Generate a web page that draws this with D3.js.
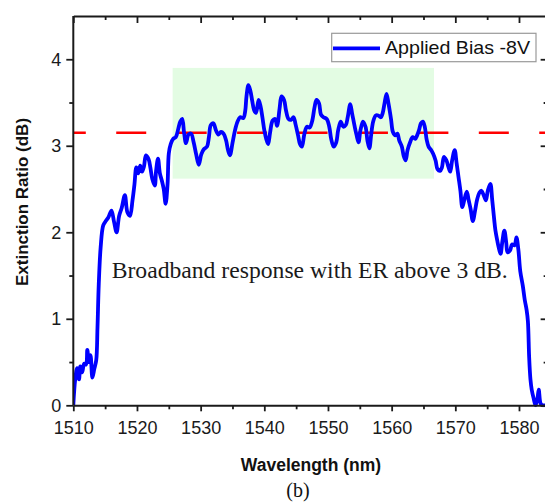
<!DOCTYPE html>
<html><head><meta charset="utf-8">
<script src="https://cdn.jsdelivr.net/npm/d3@7"></script>
<style>html,body{margin:0;padding:0;background:#fff;}svg{display:block;}</style>
</head><body>
<svg id="chart" width="545" height="502"></svg>
<script>
const wavelength = [1510.0,1510.3,1510.6,1510.9,1511.1,1511.4,1511.7,1512.0,1512.2,1512.45,1512.7,1513.0,1513.3,1513.6,1513.8,1514.0,1514.3,1514.7,1515.1,1515.5,1516.0,1516.4,1516.8,1517.2,1517.6,1518.1,1518.5,1518.9,1519.3,1519.6,1519.9,1520.2,1520.5,1520.8,1521.1,1521.4,1521.8,1522.1,1522.4,1522.8,1523.0,1523.3,1523.6,1523.9,1524.2,1524.5,1524.8,1525.0,1525.3,1525.7,1526.1,1526.5,1526.8,1527.1,1527.4,1527.7,1528.1,1528.5,1528.9,1529.3,1529.7,1530.1,1530.5,1531.0,1531.3,1531.6,1532.0,1532.4,1532.8,1533.2,1533.6,1534.0,1534.3,1534.6,1535.0,1535.4,1535.8,1536.2,1536.7,1537.0,1537.2,1537.5,1537.8,1538.1,1538.4,1538.7,1539.1,1539.4,1539.7,1540.0,1540.3,1540.6,1540.9,1541.3,1541.7,1542.0,1542.4,1542.7,1543.1,1543.4,1543.8,1544.2,1544.6,1544.9,1545.3,1545.6,1545.9,1546.3,1546.7,1547.1,1547.5,1547.9,1548.2,1548.6,1548.9,1549.3,1549.8,1550.2,1550.5,1550.9,1551.3,1551.6,1552.0,1552.4,1552.8,1553.1,1553.5,1553.8,1554.2,1554.5,1554.8,1555.1,1555.5,1555.9,1556.2,1556.5,1556.8,1557.1,1557.5,1557.9,1558.3,1558.6,1558.9,1559.2,1559.5,1559.9,1560.2,1560.6,1560.9,1561.2,1561.6,1561.9,1562.2,1562.5,1562.9,1563.3,1563.7,1564.0,1564.3,1564.6,1564.9,1565.2,1565.5,1565.8,1566.2,1566.5,1566.9,1567.2,1567.6,1567.9,1568.2,1568.6,1568.9,1569.2,1569.5,1569.9,1570.2,1570.5,1570.8,1571.1,1571.4,1571.8,1572.1,1572.4,1572.75,1573.1,1573.4,1573.8,1574.1,1574.5,1574.8,1575.1,1575.5,1575.8,1576.1,1576.3,1576.6,1576.8,1577.1,1577.4,1577.7,1578.0,1578.2,1578.6,1578.9,1579.3,1579.6,1579.9,1580.2,1580.6,1580.9,1581.2,1581.4,1581.6,1581.8,1582.0,1582.3,1582.6,1582.9,1583.1,1583.4,1583.7,1584.2];
const extinctionRatio = [0.0,0.30,0.43,0.30,0.45,0.38,0.48,0.47,0.64,0.50,0.58,0.32,0.42,0.52,0.9,1.40,1.83,2.08,2.13,2.17,2.25,2.12,2.00,2.19,2.28,2.43,2.23,2.19,2.37,2.55,2.75,2.68,2.77,2.70,2.76,2.89,2.85,2.75,2.62,2.54,2.71,2.85,2.68,2.60,2.50,2.33,2.55,2.91,3.02,3.08,3.10,3.20,3.28,3.31,3.15,3.03,3.13,3.14,3.04,2.90,2.78,2.90,2.96,2.99,3.10,3.24,3.26,3.18,3.13,3.16,3.14,3.06,2.95,2.89,3.03,3.18,3.28,3.33,3.32,3.40,3.57,3.70,3.64,3.52,3.41,3.38,3.53,3.46,3.33,3.18,3.08,3.02,3.15,3.29,3.31,3.23,3.43,3.57,3.53,3.41,3.31,3.30,3.33,3.25,3.12,3.02,2.99,3.14,3.22,3.21,3.28,3.45,3.53,3.49,3.36,3.33,3.31,3.22,3.08,2.99,3.04,3.18,3.28,3.22,3.24,3.33,3.48,3.37,3.22,3.12,3.04,3.18,3.28,3.22,3.06,2.97,3.14,3.28,3.35,3.35,3.33,3.38,3.50,3.60,3.49,3.31,3.16,3.12,3.14,3.06,2.99,2.88,2.83,2.95,3.04,3.10,3.08,3.12,3.18,3.26,3.28,3.22,3.07,2.99,2.95,2.91,2.83,2.73,2.71,2.75,2.87,2.83,2.76,2.70,2.83,2.95,2.80,2.64,2.48,2.29,2.37,2.47,2.37,2.27,2.13,2.25,2.37,2.46,2.48,2.42,2.37,2.48,2.56,2.37,2.15,2.02,1.90,1.83,1.75,1.90,2.02,1.88,1.77,1.79,1.86,1.85,1.94,1.80,1.55,1.38,1.22,1.10,0.97,0.55,0.30,0.18,0.08,0.0,0.08,0.18,0.02,0.0,0.0];
const xTicks = [1510,1520,1530,1540,1550,1560,1570,1580];
const xMinorTicks = [1515,1525,1535,1545,1555,1565,1575];
const yTicks = [0,1,2,3,4];
const yMinorTicks = [0.5,1.5,2.5,3.5];
const thresholdER = 3.15;
const bandRange = [1525.6, 1566.65];
const bandER = [2.62, 3.90];
const seriesName = "Applied Bias -8V";
const annotation = "Broadband response with ER above 3 dB.";
const xTitle = "Wavelength (nm)";
const yTitle = "Extinction Ratio (dB)";
const caption = "(b)";

const svg = d3.select("#chart");
const L = 73.3, T = 16, B = 405.3;
const x = d3.scaleLinear().domain([1510, 1584.5]).range([L, L + 74.5 * 6.367]);
const y = d3.scaleLinear().domain([0, 4.5]).range([B, T]);
const R = x.range()[1];
const axisColor = "#1a1a1a";

svg.append("defs").append("clipPath").attr("id","clip")
  .append("rect").attr("x", L).attr("y", T).attr("width", R - L).attr("height", B - T + 2);

// green band
svg.append("rect")
  .attr("x", x(bandRange[0])).attr("y", y(bandER[1]))
  .attr("width", x(bandRange[1]) - x(bandRange[0]))
  .attr("height", y(bandER[0]) - y(bandER[1]))
  .attr("fill", "#e3fce3");

// red dashed threshold
svg.append("line")
  .attr("x1", L).attr("x2", 560)
  .attr("y1", y(thresholdER)).attr("y2", y(thresholdER))
  .attr("stroke", "#ff0000").attr("stroke-width", 2.4)
  .attr("stroke-dasharray", "30,30.43").attr("stroke-dashoffset", 17.5);

// curve
const data = wavelength.map((w, i) => ({w, v: extinctionRatio[i]}));
svg.append("path")
  .datum(data)
  .attr("clip-path", "url(#clip)")
  .attr("fill", "none").attr("stroke", "#0000ff").attr("stroke-width", 3.8)
  .attr("stroke-linejoin", "round")
  .attr("d", d3.line().x(d => x(d.w)).y(d => y(d.v)).curve(d3.curveCatmullRom.alpha(0.5)));

// axes
function styleAxis(g) {
  g.select(".domain").attr("stroke", axisColor).attr("stroke-width", 2);
  g.selectAll(".tick line").attr("stroke", axisColor).attr("stroke-width", 1.8);
}
// bottom
const gB = svg.append("g").attr("transform", `translate(0,${B})`)
  .call(d3.axisBottom(x).tickValues(xTicks).tickSize(6).tickSizeOuter(0).tickPadding(10).tickFormat(d3.format("d")));
styleAxis(gB);
gB.selectAll("text").attr("font-family", "Liberation Sans, Arial, sans-serif").attr("font-size", 18).attr("fill", "#1a1a1a");
const gBm = svg.append("g").attr("transform", `translate(0,${B})`)
  .call(d3.axisBottom(x).tickValues(xMinorTicks).tickSize(4).tickSizeOuter(0).tickFormat(""));
styleAxis(gBm); gBm.select(".domain").remove();
// top
const gT = svg.append("g").attr("transform", `translate(0,${T})`)
  .call(d3.axisBottom(x).tickValues(xTicks).tickSize(7).tickSizeOuter(0).tickFormat(""));
styleAxis(gT);
const gTm = svg.append("g").attr("transform", `translate(0,${T})`)
  .call(d3.axisBottom(x).tickValues(xMinorTicks).tickSize(4).tickSizeOuter(0).tickFormat(""));
styleAxis(gTm); gTm.select(".domain").remove();
// left
const gL = svg.append("g").attr("transform", `translate(${L},0)`)
  .call(d3.axisLeft(y).tickValues(yTicks).tickSize(7).tickSizeOuter(0).tickPadding(5).tickFormat(d3.format("d")));
styleAxis(gL);
gL.selectAll("text").attr("font-family", "Liberation Sans, Arial, sans-serif").attr("font-size", 18).attr("fill", "#1a1a1a");
const gLm = svg.append("g").attr("transform", `translate(${L},0)`)
  .call(d3.axisLeft(y).tickValues(yMinorTicks).tickSize(4).tickSizeOuter(0).tickFormat(""));
styleAxis(gLm); gLm.select(".domain").remove();
// right
const gR = svg.append("g").attr("transform", `translate(${R},0)`)
  .call(d3.axisLeft(y).tickValues(yTicks).tickSize(-0).tickSizeInner(-7).tickSizeOuter(0).tickFormat(""));
gR.selectAll(".tick line").attr("x2", -7);
styleAxis(gR);
const gRm = svg.append("g").attr("transform", `translate(${R},0)`)
  .call(d3.axisLeft(y).tickValues(yMinorTicks).tickSizeOuter(0).tickFormat(""));
gRm.selectAll(".tick line").attr("x2", -4);
styleAxis(gRm); gRm.select(".domain").remove();
// fix left axis domain top to reach top axis
gL.select(".domain").attr("d", `M0,${B}V${T}`);

// titles
svg.append("text").attr("x", 311).attr("y", 471).attr("text-anchor", "middle")
  .attr("font-family", "Liberation Sans, Arial, sans-serif").attr("font-weight", "bold").attr("font-size", 17.5)
  .attr("fill", "#111").text(xTitle);
svg.append("text").attr("transform", "translate(27.5,202) rotate(-90)").attr("text-anchor", "middle")
  .attr("font-family", "Liberation Sans, Arial, sans-serif").attr("font-weight", "bold").attr("font-size", 17)
  .attr("fill", "#111").text(yTitle);
svg.append("text").attr("x", 298).attr("y", 497).attr("text-anchor", "middle")
  .attr("font-family", "Liberation Serif, Times New Roman, serif").attr("font-size", 20)
  .attr("fill", "#111").text(caption);

// annotation
svg.append("text").attr("x", 111.7).attr("y", 277.5)
  .attr("font-family", "Liberation Serif, Times New Roman, serif").attr("font-size", 23)
  .attr("textLength", 396).attr("lengthAdjust", "spacingAndGlyphs")
  .attr("fill", "#1a1a1a").text(annotation);

// legend
const lg = svg.append("g");
lg.append("rect").attr("x", 331.7).attr("y", 33.3).attr("width", 204.3).attr("height", 28.4)
  .attr("fill", "#fff").attr("stroke", "#9a9a9a").attr("stroke-width", 1.2);
lg.append("line").attr("x1", 333).attr("x2", 380).attr("y1", 48.3).attr("y2", 48.3)
  .attr("stroke", "#0000ff").attr("stroke-width", 3.8);
lg.append("text").attr("x", 385).attr("y", 53.5)
  .attr("font-family", "Liberation Sans, Arial, sans-serif").attr("font-size", 18.5)
  .attr("textLength", 145).attr("lengthAdjust", "spacingAndGlyphs")
  .attr("fill", "#111").text(seriesName);
</script>
</body></html>
